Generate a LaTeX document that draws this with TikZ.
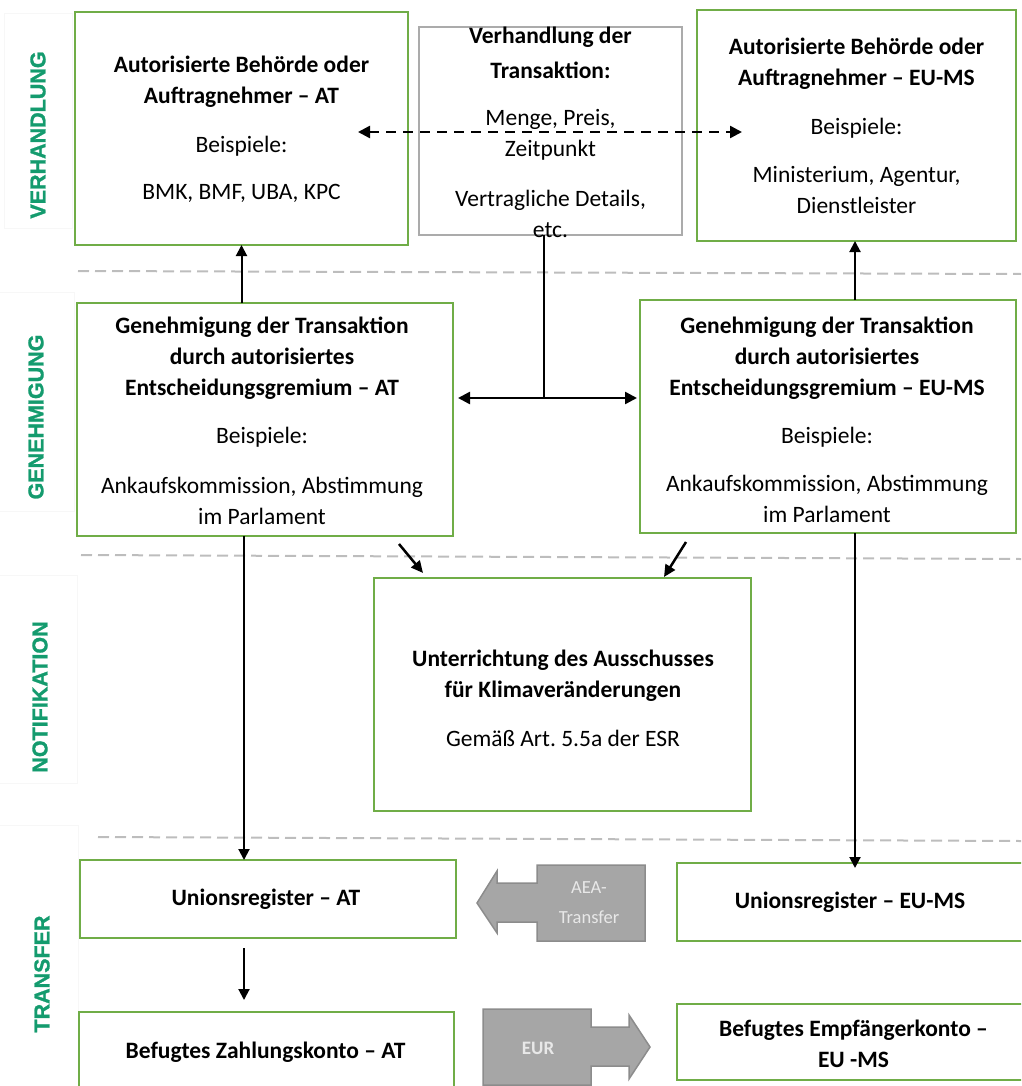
\documentclass[tikz,border=0pt]{standalone}
\usepackage{fontspec}
\setmainfont{Carlito}
\newfontfamily\labfont[BoldFeatures={FakeBold=1.2}]{Liberation Sans}
\usetikzlibrary{arrows.meta}
\frenchspacing
\definecolor{boxgreen}{HTML}{70AD47}
\definecolor{labgreen}{RGB}{20,155,110}
\definecolor{sepgray}{HTML}{BDBDBD}
\definecolor{graybord}{HTML}{ABABAB}
\definecolor{arrgray}{HTML}{A6A6A6}
\definecolor{arredge}{HTML}{8C8C8C}
\definecolor{arrtext}{HTML}{E8E8E8}
\begin{document}
\begin{tikzpicture}[x=1pt,y=-1pt,
  gbox/.style={draw=boxgreen,line width=2pt,fill=white,inner sep=0pt,outer sep=0pt},
  graybox/.style={draw=graybord,line width=2pt,fill=white,inner sep=0pt,outer sep=0pt},
  txt/.style={align=center,inner sep=0pt,font=\fontsize{23.5}{31}\selectfont},
  lab/.style={rotate=90,inner sep=0pt,text=labgreen,font=\labfont\bfseries\fontsize{21.5}{24}\selectfont},
  labbox/.style={draw=black!3,line width=1pt},
  sep/.style={draw=sepgray,line width=2pt,dash pattern=on 11pt off 6pt},
  arr/.style={line width=2pt,-{Triangle[length=11pt,width=11pt]}},
  darr/.style={line width=2.5pt,{Triangle[length=12pt,width=12pt]}-{Triangle[length=12pt,width=12pt]}},
  block/.style={fill=arrgray,draw=arredge,line width=1.5pt,line join=miter},
  btxt/.style={align=center,inner sep=0pt,text=arrtext,font=\fontsize{18.5}{30}\selectfont}
]
\useasboundingbox (0,0) rectangle (1021,1086);
\clip (0,0) rectangle (1021,1086);

% faint label frames
\draw[labbox] (4,14) rectangle (72,228);
\draw[labbox] (-2,292) rectangle (74,511);
\draw[labbox] (-2,575) rectangle (77,783);
\draw[labbox] (-2,825) rectangle (78,1090);

% phase labels
\node[lab] (lv) at (38,135) {VERHANDLUNG};
\node[lab] (lg) at (36,417) {GENEHMIGUNG};
\node[lab] (ln) at (40,697) {NOTIFIKATION};
\node[lab] (lt) at (42,974) {TRANSFER};

% separators
\draw[sep] (78,271) -- (1021,274);
\draw[sep] (81,555) -- (1021,559);
\draw[sep] (98,837) -- (1021,841);

% boxes
\node[gbox,minimum width=333pt,minimum height=233pt] (topAT) at (241.5,128.5) {};
\node[graybox,minimum width=263pt,minimum height=208pt] (neg) at (550.5,131) {};
\node[gbox,minimum width=319pt,minimum height=231pt] (topEU) at (856.5,125.5) {};
\node[gbox,minimum width=376pt,minimum height=233pt] (genAT) at (265,419.5) {};
\node[gbox,minimum width=376pt,minimum height=233pt] (genEU) at (828,416.5) {};
\node[gbox,minimum width=377pt,minimum height=233pt] (notif) at (562.5,694.5) {};
\node[gbox,minimum width=376pt,minimum height=78pt] (uniAT) at (268,899) {};
\node[gbox,minimum width=346pt,minimum height=78pt] (uniEU) at (850,902) {};
\node[gbox,minimum width=375pt,minimum height=80pt] (zahlAT) at (266.5,1052) {};
\node[gbox,minimum width=353pt,minimum height=76pt] (empfEU) at (853.5,1042) {};

% texts
\node[txt] (ttopAT) at (241.5,129) {\textbf{Autorisierte Behörde oder}\\ \textbf{Auftragnehmer – AT}\\[18pt] Beispiele:\\[16pt] BMK, BMF, UBA, KPC};
\node[txt] (tneg) at (550.5,132) {\textbf{Verhandlung der}\\[4pt] \textbf{Transaktion:}\\[16pt] Menge, Preis,\\ Zeitpunkt\\[19pt] Vertragliche Details,\\ etc.};
\node[txt] (ttopEU) at (856.5,126) {\textbf{Autorisierte Behörde oder}\\ \textbf{Auftragnehmer – EU-MS}\\[18pt] Beispiele:\\[17pt] Ministerium, Agentur,\\ Dienstleister};
\node[txt] (tgenAT) at (262,420.5) {\textbf{Genehmigung der Transaktion}\\ \textbf{durch autorisiertes}\\ \textbf{Entscheidungsgremium – AT}\\[17pt] Beispiele:\\[19pt] Ankaufskommission, Abstimmung\\ im Parlament};
\node[txt] (tgenEU) at (827,419.5) {\textbf{Genehmigung der Transaktion}\\ \textbf{durch autorisiertes}\\ \textbf{Entscheidungsgremium – EU-MS}\\[17pt] Beispiele:\\[17pt] Ankaufskommission, Abstimmung\\ im Parlament};
\node[txt] (tnotif) at (563,698) {\textbf{Unterrichtung des Ausschusses}\\ \textbf{für Klimaveränderungen}\\[18pt] Gemäß Art. 5.5a der ESR};
\node[txt] (tuniAT) at (266,899) {\textbf{Unionsregister – AT}};
\node[txt] (tuniEU) at (850,902) {\textbf{Unionsregister – EU-MS}};
\node[txt] (tzahlAT) at (265.5,1052) {\textbf{Befugtes Zahlungskonto – AT}};
\node[txt] (tempfEU) at (853.5,1044) {\textbf{Befugtes Empfängerkonto –}\\ \textbf{EU -MS}};

% block arrows
\draw[block] (645,865) -- (537,865) -- (537,883) -- (497,883) -- (497,871) -- (477,903) -- (497,933) -- (497,922) -- (537,922) -- (537,941) -- (645,941) -- cycle;
\node[btxt] (taea) at (589,903) {AEA-\\Transfer};
\draw[block] (483,1009) -- (591,1009) -- (591,1027) -- (629,1027) -- (629,1015) -- (650,1047) -- (629,1079) -- (629,1066) -- (591,1066) -- (591,1085) -- (483,1085) -- cycle;
\node[btxt,font=\bfseries\fontsize{19}{24}\selectfont] (teur) at (538,1048) {EUR};

% helper coordinates
\coordinate (dL) at (358,132);
\coordinate (dR) at (742,132);
\coordinate (jn) at (543.5,398);
\coordinate (xA) at (244,0);
\coordinate (xE) at (855,0);
\coordinate (d1s) at (399,544);
\coordinate (d1e) at (423,573);
\coordinate (d2s) at (686,542);
\coordinate (d2e) at (664,577);

% connectors
\draw[darr,dash pattern=on 10pt off 7pt] (dL) -- (dR);
\draw[arr] (genAT.north -| topAT.south) -- (topAT.south);
\draw[arr] (genEU.north -| xE) -- (topEU.south -| xE);
\draw[line width=2pt] (neg.south -| jn) -- (jn);
\draw[darr] ([xshift=5pt]genAT.east |- jn) -- ([xshift=-3pt]genEU.west |- jn);
\draw[line width=2.5pt,-{Triangle[length=12pt,width=11pt]}] (d1s) -- (d1e);
\draw[line width=2.5pt,-{Triangle[length=12pt,width=11pt]}] (d2s) -- (d2e);
\draw[arr] (genAT.south -| xA) -- (uniAT.north -| xA);
\draw[arr] (genEU.south -| xE) -- ([yshift=-5pt]uniEU.north -| xE);
\draw[arr,shorten <=10pt,shorten >=12pt] (uniAT.south -| xA) -- (zahlAT.north -| xA);
\end{tikzpicture}
\end{document}
